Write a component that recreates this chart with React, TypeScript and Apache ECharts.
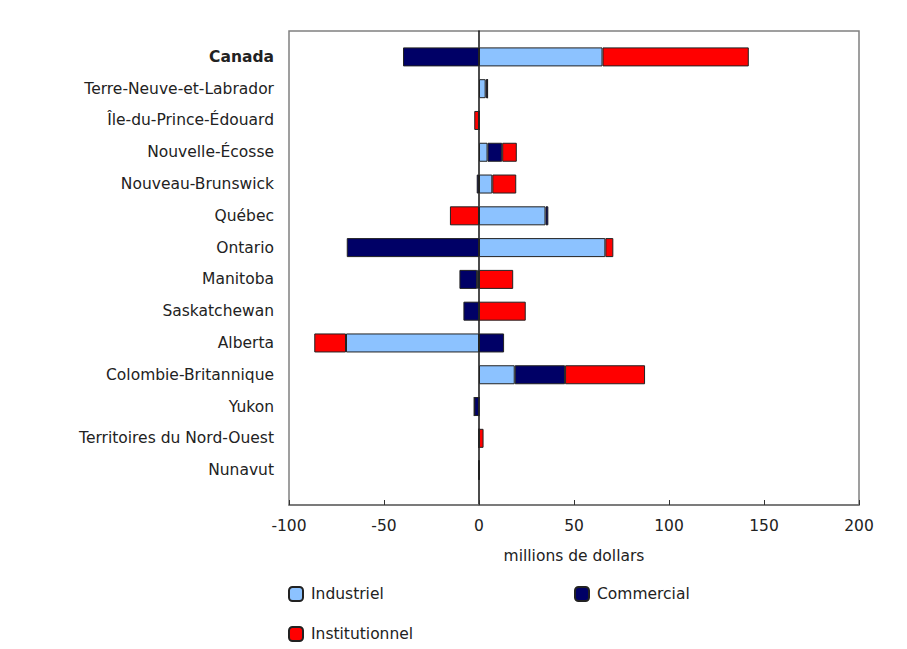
import React, { useEffect, useRef } from "react";
import * as echarts from "echarts";

const categories = [
  "Canada",
  "Terre-Neuve-et-Labrador",
  "Île-du-Prince-Édouard",
  "Nouvelle-Écosse",
  "Nouveau-Brunswick",
  "Québec",
  "Ontario",
  "Manitoba",
  "Saskatchewan",
  "Alberta",
  "Colombie-Britannique",
  "Yukon",
  "Territoires du Nord-Ouest",
  "Nunavut",
];
const industrial = [65, 3.5, 0, 4.5, 7, 35, 66.5, -1, 0, -70, 18.8, 0, 0, 0];
const commercial = [-40, 1, 0, 7.7, -1.2, 1.5, -69.6, -9.3, -8.2, 13.2, 26.5, -2.5, 0, 0];
const institutional = [77, 0, -2.5, 7.7, 12.6, -15.3, 4.2, 18, 24.6, -16.7, 42.1, 0, 2.4, 0];
const xTicks = { min: -100, max: 200, interval: 50 };
const seriesNames = ["Industriel", "Commercial", "Institutionnel"];

const FONT = "DejaVu Sans";
const FS = 15.5;
const TEXT = "#222";

export default function App() {
  const ref = useRef<HTMLDivElement>(null);
  useEffect(() => {
    if (!ref.current) return;
    const chart = echarts.init(ref.current, null, { renderer: "svg" });
    const barBase = {
      type: "bar",
      stack: "total",
      barWidth: 19,
      xAxisIndex: 0,
      yAxisIndex: 0,
      itemStyle: { borderColor: "#222", borderWidth: 1 },
    };
    const legendText = { fontFamily: FONT, fontSize: FS, color: TEXT, padding: [0, 0, 0, 3] };
    chart.setOption({
      animation: false,
      backgroundColor: "#fff",
      textStyle: { fontFamily: FONT, color: TEXT },
      grid: [
        { left: 289, right: 48, top: 41, height: 445, containLabel: false },
        {
          left: 289,
          right: 48,
          top: 31,
          bottom: 144,
          show: true,
          borderColor: "#808080",
          borderWidth: 1.5,
          backgroundColor: "transparent",
        },
      ],
      xAxis: [
        {
          gridIndex: 0,
          type: "value",
          min: xTicks.min,
          max: xTicks.max,
          interval: xTicks.interval,
          show: false,
        },
        {
          gridIndex: 1,
          type: "value",
          min: xTicks.min,
          max: xTicks.max,
          interval: xTicks.interval,
          axisLine: { show: true, onZero: false, lineStyle: { color: "#707070", width: 1.5 } },
          axisTick: { show: true, inside: true, length: 5, lineStyle: { color: "#333", width: 1 } },
          splitLine: { show: false },
          axisLabel: { fontFamily: FONT, fontSize: FS, color: TEXT, margin: 13 },
          name: "millions de dollars",
          nameLocation: "middle",
          nameGap: 43,
          nameTextStyle: { fontFamily: FONT, fontSize: FS, color: TEXT },
        },
      ],
      yAxis: [
        {
          gridIndex: 0,
          type: "category",
          data: categories,
          inverse: true,
          axisLine: { show: false },
          axisTick: { show: false },
          axisLabel: {
            margin: 15,
            fontFamily: FONT,
            fontSize: FS,
            color: TEXT,
            formatter: (v: string) => (v === "Canada" ? `{b|${v}}` : v),
            rich: {
              b: { fontFamily: FONT, fontSize: FS, fontWeight: "bold", color: TEXT },
            },
          },
        },
        {
          gridIndex: 1,
          type: "value",
          min: 0,
          max: 1,
          axisLine: { show: true, onZero: true, lineStyle: { color: "#111", width: 1.5 } },
          axisTick: { show: false },
          axisLabel: { show: false },
          splitLine: { show: false },
        },
      ],
      legend: [
        {
          data: [seriesNames[0]],
          left: 283,
          top: 581,
          itemWidth: 14,
          itemHeight: 14,
          textStyle: legendText,
        },
        {
          data: [seriesNames[1]],
          left: 569,
          top: 581,
          itemWidth: 14,
          itemHeight: 14,
          textStyle: legendText,
        },
        {
          data: [seriesNames[2]],
          left: 283,
          top: 621,
          itemWidth: 14,
          itemHeight: 14,
          textStyle: legendText,
        },
      ],
      series: [
        { ...barBase, name: seriesNames[0], data: industrial, itemStyle: { ...barBase.itemStyle, color: "#8CC2FF" } },
        { ...barBase, name: seriesNames[1], data: commercial, itemStyle: { ...barBase.itemStyle, color: "#000066" } },
        { ...barBase, name: seriesNames[2], data: institutional, itemStyle: { ...barBase.itemStyle, color: "#FF0000" } },
      ],
    });
    return () => chart.dispose();
  }, []);
  return (
    <div
      ref={ref}
      style={{ position: "fixed", left: 0, top: 0, width: 907, height: 649 }}
    />
  );
}
